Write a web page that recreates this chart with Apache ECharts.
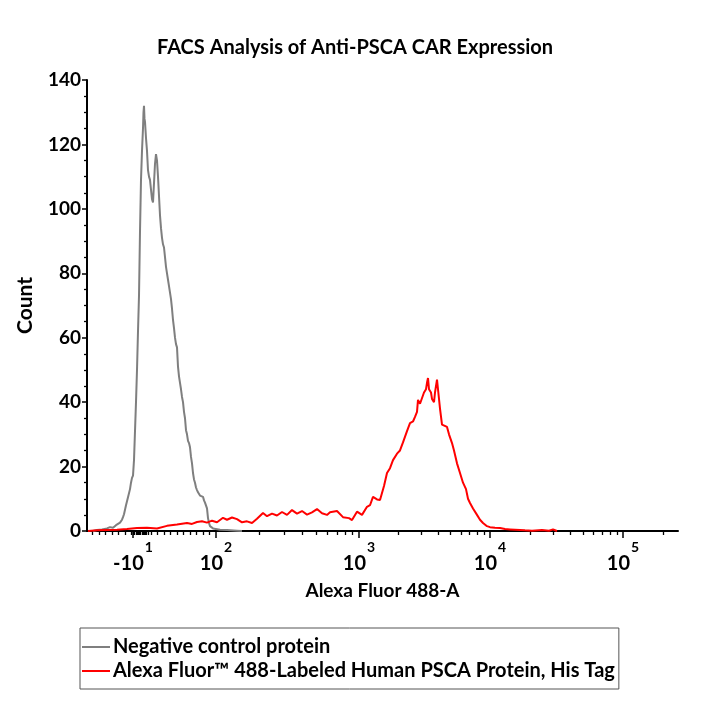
<!DOCTYPE html>
<html>
<head>
<meta charset="utf-8">
<script src="https://cdn.jsdelivr.net/npm/echarts@6/dist/echarts.min.js"></script>
<style>html,body{margin:0;padding:0;background:#fff}#c{width:720px;height:720px}</style>
</head>
<body>
<div id="c"></div>
<script>
// ---- data (x in display channel units of the biexponential axis, y = Count) ----
const titleText = 'FACS Analysis of Anti-PSCA CAR Expression';
const xName = 'Alexa Fluor 488-A';
const yName = 'Count';
const seriesNames = ['Negative control protein', 'Alexa Fluor\u2122 488-Labeled Human PSCA Protein, His Tag'];

// major (labelled) tick positions in display channels
const xMajorPos = [46, 129, 272, 403, 536];
const xMajorBase = ['-10', '10', '10', '10', '10'];
const xMajorExp = ['1', '2', '3', '4', '5'];

const negativeControl = [
  [6,0],[10,0.3],[15,0.5],[20,0.8],[23,1.2],[26,1.0],[29,1.8],[31,2.0],[33,2.6],[35,3.5],[36,4.3],
  [37,5.2],[39,8],[41,10.5],[43,13],[44,15],[45,16.5],[46,17.2],[47,22],[48,31],[49,40],[50,50],
  [51,62],[52,73],[53,93],[54,109],[55,118],[56,125],[56.5,130],[57,132],[57.5,128],[58,127],[59,122],
  [60,118],[61,112],[62,110],[63,109],[64,106],[65,103],[66,102],[67,108],[68,114],[69,117],[70,115],
  [71,110],[72,104],[73,98],[74,94],[75,91],[76,89],[77,88],[78,85],[79,82],[80,80],[81,78],[82,76],
  [83,74],[84,72],[85,69],[86,65.5],[87,63],[88,60],[89,58],[90,57],[91,51],[92,48],[93,46],[94,44],
  [95,41.6],[96,40],[97,37],[98,35],[99,31.3],[100,30],[101,28],[102,27.3],[103,26],[104,23],[105,21],
  [106,18],[107,16],[108,15],[109,13.5],[110,12.7],[111,12],[112,11.5],[113,11],[114,10.8],[116,10.6],
  [117,9.5],[118,8.8],[119,8.7],[120,7],[121,4],[122,2.5],[123,1.5],[124,1],[126,0.8],[128,0.6],
  [133,0.4],[140,0.3],[150,0.1],[155,0]
];

const alexaPSCA = [
  [1,0],[10,0.2],[20,0.3],[30,0.4],[40,0.6],[50,0.9],[60,1.0],[70,0.8],[80,1.6],[90,2.0],[100,2.5],
  [105,2.2],[110,2.8],[115,3.0],[120,2.6],[125,3.2],[130,2.7],[136,4.1],[140,3.5],[145,4.2],[150,3.7],
  [155,2.7],[160,3.0],[165,2.5],[170,3.8],[176,5.6],[180,4.6],[185,5.4],[190,4.8],[195,5.9],[200,5.0],
  [205,6.5],[210,5.4],[215,6.2],[220,5.1],[225,5.8],[230,6.8],[235,5.5],[240,5.0],[243,5.8],[250,6.2],
  [256,4.3],[262,4.0],[265,3.4],[270,6.0],[275,5.0],[280,7.5],[283,8.0],[286,10.6],[290,9.8],[293,9.6],
  [297,14],[300,18],[303,19.5],[306,22],[310,24],[313,25],[316,27.5],[318,28],[320,31],[323,33.5],
  [326,34],[328,35.4],[330,37],[331,40.7],[333,39.5],[335,39],[337,43],[339,44],[340,46],[341,47.5],
  [342,44],[344,43],[345,41],[347,40],[348,43],[350,47],[351,44],[353,38],[355,33],[357,33.5],[360,32.3],
  [362,30],[365,27.3],[367,25],[370,21],[373,18],[376,15],[379,13],[381,10],[383,8.7],[386,7],[390,5],
  [393,3.5],[396,2.5],[400,1.5],[403,1.2],[408,1.0],[413,0.9],[418,0.6],[423,0.5],[428,0.4],[433,0.3],
  [438,0.2],[445,0.1],[455,0.3],[462,0.1],[466,0.5],[470,0]
];

// ---- axis construction ----
const xMin = 0, xMax = 591;
const minorTicks = [];
for (let k = 1; k <= 19; k++) minorTicks.push(xMajorPos[1] - 6.5 * k);
for (let v = 46; v <= 61; v += 1.5) minorTicks.push(v);
for (let i = 1; i < xMajorPos.length; i++) {
  const a = xMajorPos[i];
  const span = i < xMajorPos.length - 1 ? xMajorPos[i + 1] - a : 133;
  for (let m = 2; m <= 9; m++) {
    const p = a + span * Math.log10(m);
    if (p <= xMax) minorTicks.push(p);
  }
}

const FONT = 'Lato';
const chart = echarts.init(document.getElementById('c'), null, {renderer: 'canvas'});
chart.setOption({
  animation: false,
  backgroundColor: '#fff',
  title: {
    text: titleText, left: 152, top: 33,
    textStyle: {fontFamily: FONT, fontSize: 20, fontWeight: 'bold', color: '#000'}
  },
  grid: {left: 87, right: 42, top: 80, bottom: 189},
  xAxis: [{
    type: 'value', min: xMin, max: xMax, position: 'bottom',
    axisLine: {show: true, onZero: false, lineStyle: {color: '#000', width: 2}},
    axisTick: {show: true, customValues: xMajorPos, length: 7, lineStyle: {color: '#000', width: 1.5}},
    axisLabel: {
      customValues: xMajorPos, margin: 9,
      formatter: function (v) {
        const i = xMajorPos.indexOf(v);
        return '{b|' + xMajorBase[i] + '}{s|' + xMajorExp[i] + '}';
      },
      rich: {
        b: {fontFamily: FONT, fontSize: 20, fontWeight: 'bold', color: '#000', verticalAlign: 'bottom'},
        s: {fontFamily: FONT, fontSize: 14, fontWeight: 'bold', color: '#000', verticalAlign: 'bottom', padding: [0, 0, 20, 1]}
      }
    },
    splitLine: {show: false},
    name: xName, nameLocation: 'middle', nameGap: 50,
    nameTextStyle: {fontFamily: FONT, fontSize: 19, fontWeight: 'bold', color: '#000'}
  }, {
    type: 'value', min: xMin, max: xMax, position: 'bottom',
    axisLine: {show: false, onZero: false},
    axisTick: {show: true, customValues: minorTicks, length: 4, lineStyle: {color: '#000', width: 1.3}},
    axisLabel: {show: false},
    splitLine: {show: false}
  }],
  yAxis: {
    type: 'value', min: 0, max: 140, interval: 20,
    axisLine: {show: true, lineStyle: {color: '#000', width: 2}},
    axisTick: {show: true, length: 5, lineStyle: {color: '#000', width: 1.5}},
    minorTick: {show: true, splitNumber: 4, length: 3, lineStyle: {color: '#000', width: 1.3}},
    axisLabel: {fontFamily: FONT, fontSize: 19, fontWeight: 'bold', color: '#000', margin: 6},
    splitLine: {show: false},
    name: yName, nameLocation: 'middle', nameGap: 51, nameRotate: 90,
    nameTextStyle: {fontFamily: FONT, fontSize: 21, fontWeight: 'bold', color: '#000'}
  },
  legend: {
    orient: 'vertical', left: 80, top: 628,
    padding: [9, 4, 8, 2], itemGap: 4,
    itemWidth: 28, itemHeight: 2, icon: 'rect',
    borderColor: '#555', borderWidth: 1,
    textStyle: {fontFamily: FONT, fontSize: 20, fontWeight: 'bold', color: '#000', padding: [0, 0, 0, -2]},
    data: seriesNames
  },
  series: [{
    name: seriesNames[0], type: 'line', data: negativeControl, symbol: 'none',
    lineStyle: {color: '#7f7f7f', width: 2}, itemStyle: {color: '#7f7f7f'}
  }, {
    name: seriesNames[1], type: 'line', data: alexaPSCA, symbol: 'none',
    lineStyle: {color: '#ff0000', width: 2}, itemStyle: {color: '#ff0000'}
  }]
});
</script>
</body>
</html>
